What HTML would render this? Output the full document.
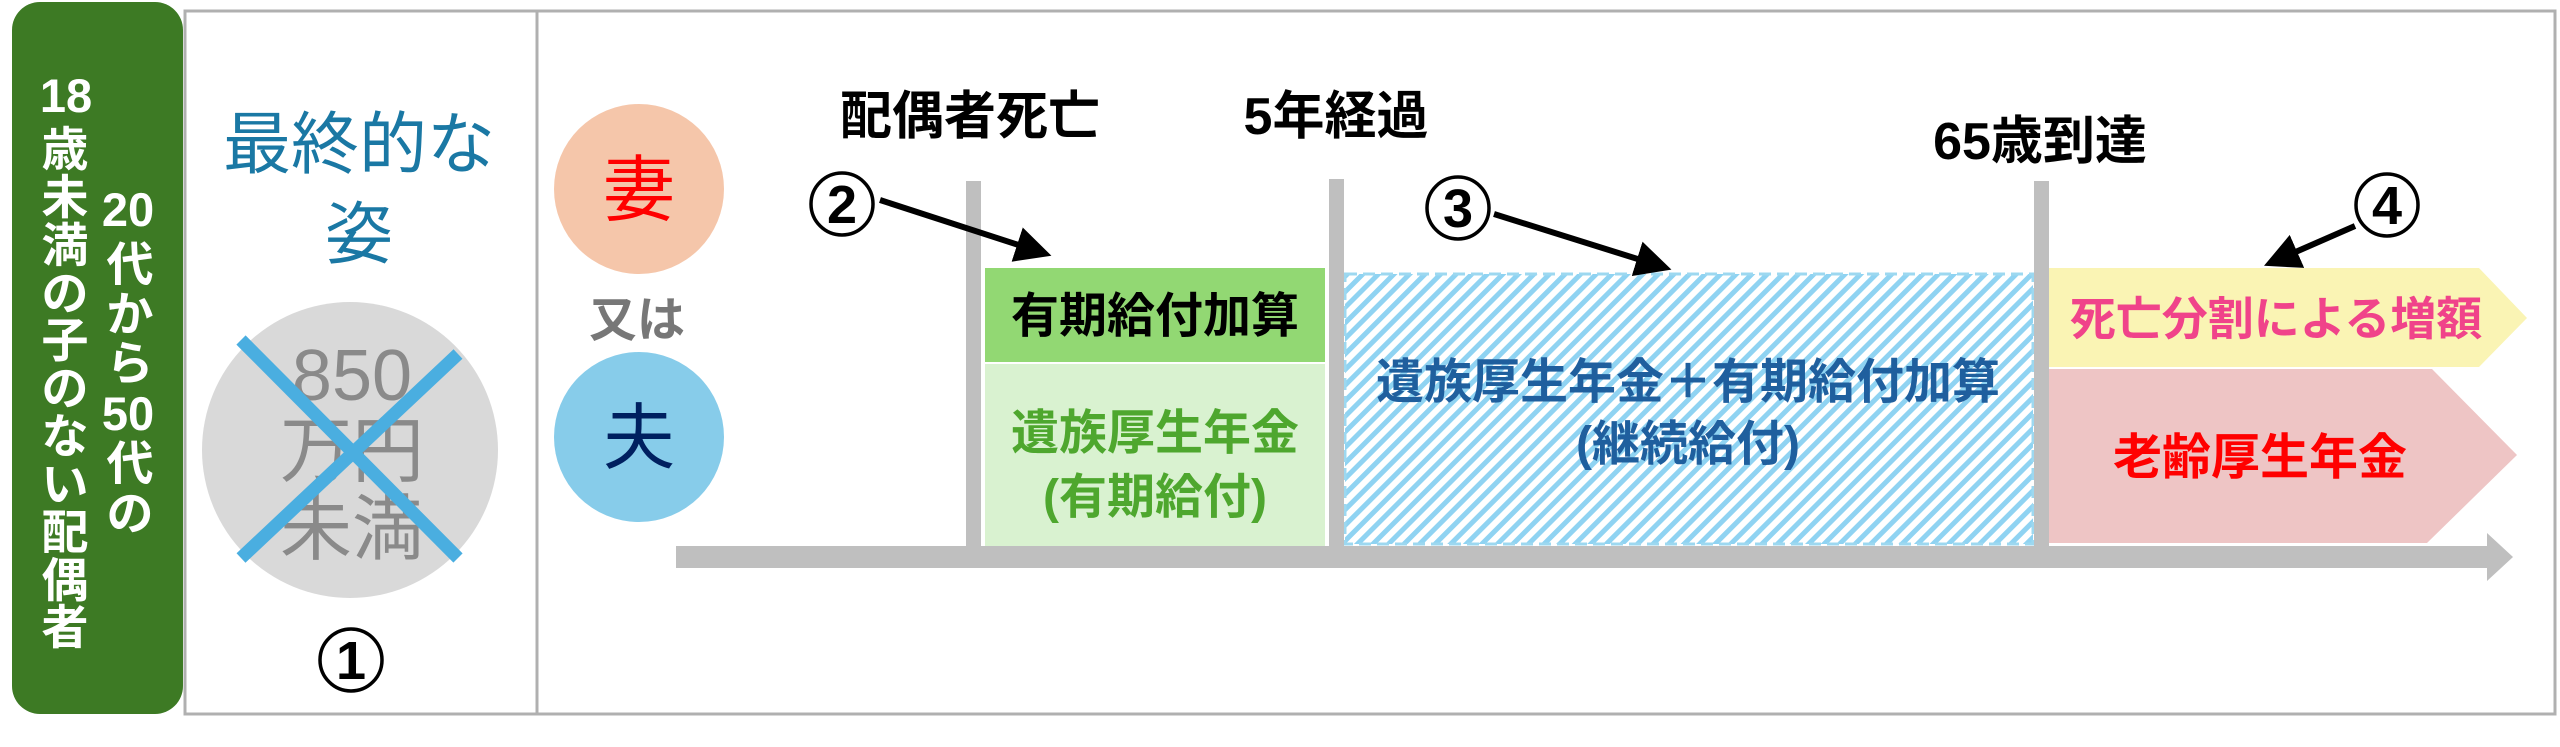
<!DOCTYPE html>
<html><head><meta charset="utf-8"><style>
html,body{margin:0;padding:0;background:#fff;}
svg{display:block;}
text{font-family:"Liberation Sans","Noto Sans CJK JP",sans-serif;}
.b{font-weight:700;}
</style></head><body>
<svg width="2560" height="747" viewBox="0 0 2560 747" xmlns="http://www.w3.org/2000/svg">
<defs>
<pattern id="hatch" patternUnits="userSpaceOnUse" width="11" height="11" patternTransform="rotate(45)">
<rect x="0" y="0" width="5" height="11" fill="#8fd3f2"/>
</pattern>
<marker id="ah" markerWidth="6" markerHeight="6" refX="4" refY="3" orient="auto" markerUnits="strokeWidth">
<path d="M0,0 L6,3 L0,6 z" fill="#000"/>
</marker>
</defs>
<rect x="185" y="11" width="2370" height="703" fill="#fff" stroke="#b0b0b0" stroke-width="3"/>
<line x1="537" y1="11" x2="537" y2="714" stroke="#b0b0b0" stroke-width="3"/>
<rect x="12" y="2" width="171" height="712" rx="28" fill="#3d7a24"/>
<g class="b" fill="#fff" font-size="47" text-anchor="middle">
<text x="66" y="112">18</text>
<text x="65" y="166">歳</text><text x="65" y="214">未</text><text x="65" y="262">満</text><text x="65" y="310">の</text><text x="65" y="357">子</text><text x="65" y="405">の</text><text x="65" y="453">な</text><text x="65" y="501">い</text><text x="65" y="549">配</text><text x="65" y="597">偶</text><text x="65" y="644">者</text>
<text x="128" y="226">20</text>
<text x="130" y="281">代</text><text x="130" y="331">か</text><text x="130" y="380">ら</text><text x="128" y="430">50</text><text x="130" y="480">代</text><text x="130" y="530">の</text>
</g>
<g fill="#1a78a4" font-size="68" text-anchor="middle">
<text x="359" y="168">最終的な</text>
<text x="359" y="258">姿</text>
</g>
<circle cx="350" cy="450" r="148" fill="#d9d9d9"/>
<g fill="#8a8a8a" font-size="72" text-anchor="middle">
<text x="352" y="400">850</text>
<text x="352" y="476">万円</text>
<text x="352" y="554">未満</text>
</g>
<line x1="241" y1="340" x2="458" y2="558" stroke="#4aaee0" stroke-width="13"/>
<line x1="458" y1="354" x2="241" y2="558" stroke="#4aaee0" stroke-width="13"/>
<circle cx="351" cy="660" r="31" fill="none" stroke="#000" stroke-width="3.5"/>
<text x="351" y="679" class="b" font-size="54" text-anchor="middle">1</text>
<circle cx="639" cy="189" r="85" fill="#f5c6aa"/>
<text x="639" y="215" fill="#ff0000" font-size="72" text-anchor="middle">妻</text>
<text x="637" y="336" class="b" fill="#777" font-size="48" text-anchor="middle">又は</text>
<circle cx="639" cy="437" r="85" fill="#87ccea"/>
<text x="639" y="463" fill="#002060" font-size="72" text-anchor="middle">夫</text>
<g class="b" font-size="52" text-anchor="middle" fill="#000">
<text x="970" y="134">配偶者死亡</text>
<text x="1336" y="134">5年経過</text>
<text x="2040" y="159">65歳到達</text>
</g>
<rect x="985" y="268" width="340" height="94" fill="#92d873"/>
<rect x="985" y="364" width="340" height="183" fill="#d9f2d0"/>
<text x="1155" y="332" class="b" font-size="48" text-anchor="middle" fill="#000">有期給付加算</text>
<g class="b" font-size="48" text-anchor="middle" fill="#4ea72e">
<text x="1155" y="449">遺族厚生年金</text>
<text x="1155" y="513">(有期給付)</text>
</g>
<rect x="1345" y="274" width="688" height="270" fill="#fff"/>
<rect x="1345" y="274" width="688" height="270" fill="url(#hatch)" stroke="#9dd8f0" stroke-width="3" stroke-dasharray="12,6"/>
<g class="b" font-size="48" text-anchor="middle" fill="#1f5f9e">
<text x="1688" y="398">遺族厚生年金＋有期給付加算</text>
<text x="1688" y="460">(継続給付)</text>
</g>
<polygon points="2049,268 2479,268 2527,318 2479,367 2049,367" fill="#faf4b4"/>
<polygon points="2049,369 2432,369 2517,455 2427,543 2049,543" fill="#eec5c5"/>
<text x="2276" y="335" class="b" font-size="46" text-anchor="middle" fill="#f0438a">死亡分割による増額</text>
<text x="2260" y="474" class="b" font-size="49" text-anchor="middle" fill="#ff0000">老齢厚生年金</text>
<rect x="966" y="181" width="15" height="374" fill="#bfbfbf"/>
<rect x="1329" y="179" width="15" height="376" fill="#bfbfbf"/>
<rect x="2034" y="181" width="15" height="374" fill="#bfbfbf"/>
<rect x="676" y="546" width="1815" height="22" fill="#bfbfbf"/>
<polygon points="2487,533 2513,557 2487,581" fill="#bfbfbf"/>
<g fill="none" stroke="#000" stroke-width="3.5">
<circle cx="842" cy="204" r="31"/>
<circle cx="1458" cy="208" r="31"/>
<circle cx="2387" cy="205" r="31"/>
</g>
<g class="b" font-size="54" text-anchor="middle" fill="#000">
<text x="842" y="223">2</text>
<text x="1458" y="227">3</text>
<text x="2387" y="224">4</text>
</g>
<g stroke="#000" stroke-width="6" marker-end="url(#ah)">
<line x1="880" y1="200" x2="1040" y2="252"/>
<line x1="1494" y1="214" x2="1660" y2="266"/>
<line x1="2355" y1="226" x2="2275" y2="261"/>
</g>
</svg>
</body></html>
